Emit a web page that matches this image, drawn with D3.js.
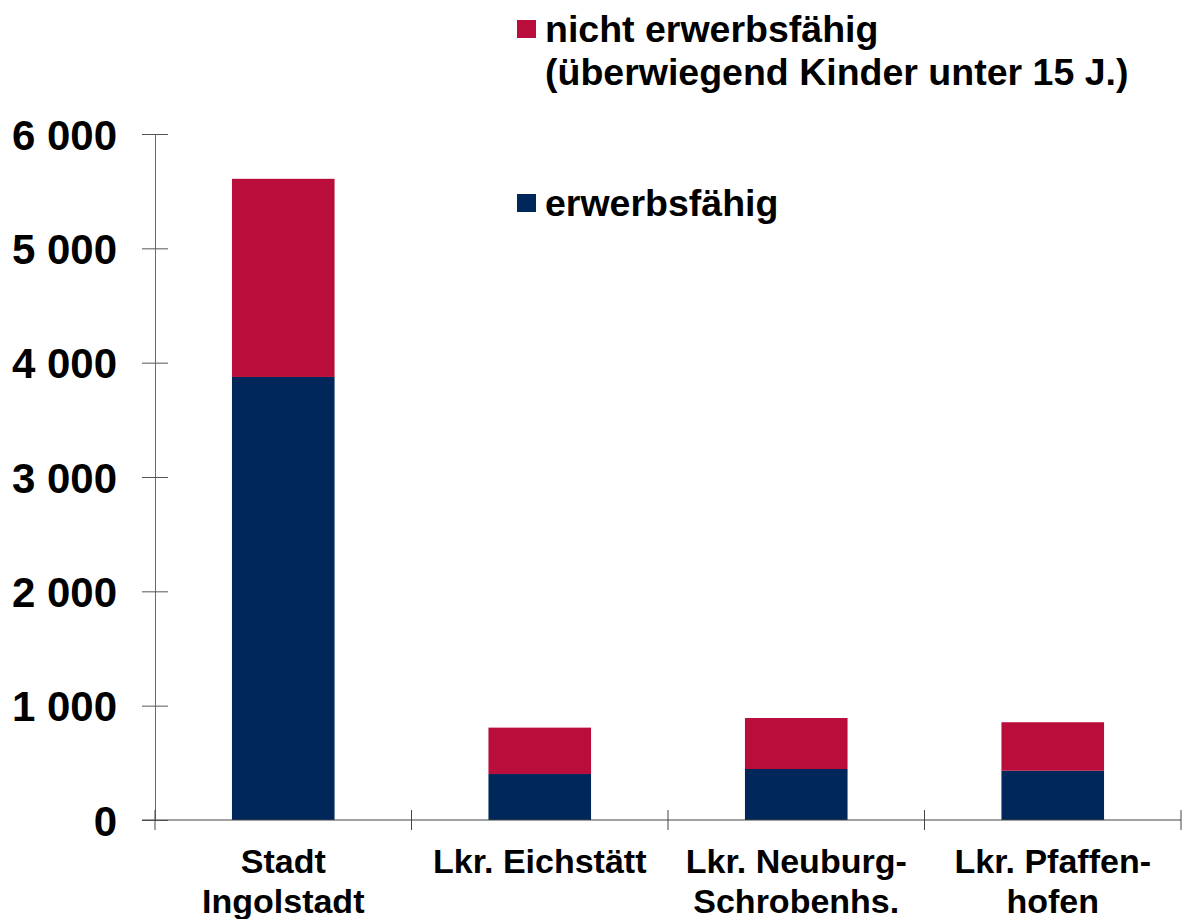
<!DOCTYPE html>
<html>
<head>
<meta charset="utf-8">
<script src="https://cdn.jsdelivr.net/npm/d3@7"></script>
<style>
  body { margin: 0; background: #fff; }
  svg { display: block; font-family: "Liberation Sans", Arial, sans-serif; font-weight: bold; }
</style>
</head>
<body>
<div id="chart"></div>
<script>
// data
var categories = ["Stadt Ingolstadt", "Lkr. Eichstätt", "Lkr. Neuburg-Schrobenhs.", "Lkr. Pfaffenhofen"];
var categoryLines = [["Stadt", "Ingolstadt"], ["Lkr. Eichstätt"], ["Lkr. Neuburg-", "Schrobenhs."], ["Lkr. Pfaffen-", "hofen"]];
var erwerbsfaehig = [3875, 402, 446, 431];
var nichtErwerbsfaehig = [1733, 406, 446, 424];
var yTicks = [0, 1000, 2000, 3000, 4000, 5000, 6000];
var seriesNames = ["nicht erwerbsfähig", "erwerbsfähig"];
var seriesColors = ["#b90e3b", "#00275a"];

var width = 1184, height = 919;
var margin = { top: 134, right: 3, bottom: 99, left: 155 };

var svg = d3.select("#chart").append("svg")
  .attr("width", width)
  .attr("height", height);

var x = d3.scaleBand()
  .domain(categories)
  .range([margin.left, width - margin.right])
  .paddingInner(0.6)
  .paddingOuter(0.3);

var y = d3.scaleLinear()
  .domain([0, 6000])
  .range([height - margin.bottom, margin.top]);

var rows = categories.map(function (c, i) {
  return { cat: c, erwerbsfaehig: erwerbsfaehig[i], nicht: nichtErwerbsfaehig[i] };
});
var stack = d3.stack().keys(["erwerbsfaehig", "nicht"]);
var layers = stack(rows);
var layerColors = [seriesColors[1], seriesColors[0]];

// bars
svg.append("g").selectAll("g")
  .data(layers)
  .enter().append("g")
  .attr("fill", function (d, i) { return layerColors[i]; })
  .selectAll("rect")
  .data(function (d) { return d; })
  .enter().append("rect")
  .attr("x", function (d) { return x(d.data.cat); })
  .attr("width", x.bandwidth())
  .attr("y", function (d) { return y(d[1]); })
  .attr("height", function (d) { return y(d[0]) - y(d[1]); });

// y axis
var fmt = d3.formatLocale({ decimal: ",", thousands: " ", grouping: [3], currency: ["", "€"] }).format(",");
var yAxis = svg.append("g")
  .attr("transform", "translate(" + margin.left + ",0)")
  .call(d3.axisLeft(y).tickValues(yTicks).tickFormat(fmt).tickSize(13).tickSizeOuter(0));
yAxis.select(".domain").attr("stroke", "#6b6b6b");
yAxis.selectAll(".tick line").attr("x1", -13).attr("x2", 13).attr("stroke", "#555");
yAxis.selectAll(".tick text")
  .attr("x", -38)
  .attr("dy", "0.36em")
  .attr("fill", "#000")
  .style("font-size", "42px")
  .style("font-weight", "bold")
  .style("font-family", "'Liberation Sans', Arial, sans-serif");

// x axis
var xAxis = svg.append("g")
  .attr("transform", "translate(0," + y(0) + ")");
xAxis.append("line")
  .attr("x1", x.range()[0] - 13)
  .attr("x2", x.range()[1])
  .attr("stroke", "#444");
var gap = (x.step() - x.bandwidth()) / 2;
var bounds = categories.map(function (c) { return x(c) - gap; }).concat([x.range()[1]]);
xAxis.selectAll(".xtick")
  .data(bounds)
  .enter().append("line")
  .attr("class", "xtick")
  .attr("x1", function (d) { return d; })
  .attr("x2", function (d) { return d; })
  .attr("y1", -10)
  .attr("y2", 10)
  .attr("stroke", "#444");

var labels = xAxis.selectAll(".xlabel")
  .data(categories)
  .enter().append("text")
  .attr("class", "xlabel")
  .attr("text-anchor", "middle")
  .style("font-size", "34px");
labels.selectAll("tspan")
  .data(function (d, i) { return categoryLines[i].map(function (t) { return { t: t, c: d }; }); })
  .enter().append("tspan")
  .attr("x", function (d) { return x(d.c) + x.bandwidth() / 2; })
  .attr("y", function (d, i) { return 53 + i * 40; })
  .text(function (d) { return d.t; });

// legend
var legendItems = [
  { lines: ["nicht erwerbsfähig", "(überwiegend Kinder unter 15 J.)"], color: seriesColors[0], top: 20 },
  { lines: ["erwerbsfähig"], color: seriesColors[1], top: 194 }
];
var legend = svg.append("g").attr("transform", "translate(517,0)");
var lg = legend.selectAll("g")
  .data(legendItems)
  .enter().append("g")
  .attr("transform", function (d) { return "translate(0," + d.top + ")"; });
lg.append("rect")
  .attr("width", 19)
  .attr("height", 18)
  .attr("fill", function (d) { return d.color; });
lg.append("text")
  .style("font-size", "37.5px")
  .selectAll("tspan")
  .data(function (d) { return d.lines; })
  .enter().append("tspan")
  .attr("x", 28)
  .attr("y", function (d, i) { return 22 + i * 43; })
  .text(function (d) { return d; });
</script>
</body>
</html>
